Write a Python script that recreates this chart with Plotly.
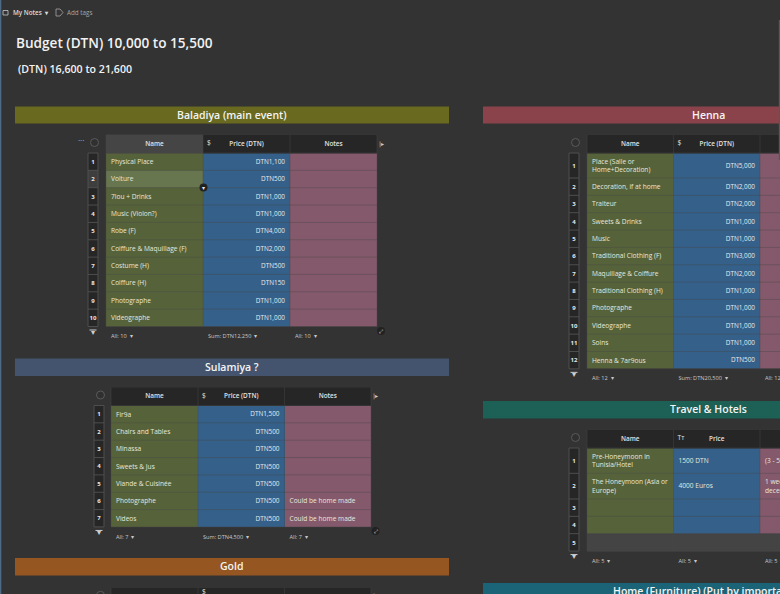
import numpy as np
import plotly.graph_objects as go

# ---------- data ----------
PAGE_TITLE = "Budget (DTN) 10,000 to 15,500"
PAGE_SUBTITLE = "(DTN) 16,600 to 21,600"
BREADCRUMB = "My Notes"
ADD_TAGS = "Add tags"

BALADIYA_NAMES = ["Physical Place", "Voiture", "7lou + Drinks", "Music (Violon?)", "Robe (F)",
                  "Coiffure & Maquillage (F)", "Costume (H)", "Coiffure (H)", "Photographe", "Videographe"]
BALADIYA_PRICES = [1100, 500, 1000, 1000, 4000, 2000, 500, 150, 1000, 1000]
BALADIYA_NOTES = [""] * 10

SULAMIYA_NAMES = ["Fir9a", "Chairs and Tables", "Minassa", "Sweets & Jus", "Viande & Cuisinée", "Photographe", "Videos"]
SULAMIYA_PRICES = [1500, 500, 500, 500, 500, 500, 500]
SULAMIYA_NOTES = ["", "", "", "", "", "Could be home made", "Could be home made"]

HENNA_NAMES = ["Place (Salle or<br>Home+Decoration)", "Decoration, if at home", "Traiteur", "Sweets & Drinks", "Music",
               "Traditional Clothing (F)", "Maquillage & Coiffure", "Traditional Clothing (H)", "Photographe",
               "Videographe", "Soins", "Henna & 7ar9ous"]
HENNA_PRICES = [5000, 2000, 2000, 1000, 1000, 3000, 2000, 1000, 1000, 1000, 1000, 500]
HENNA_NOTES = [""] * 12

TRAVEL_NAMES = ["Pre-Honeymoon in<br>Tunisia/Hotel", "The Honeymoon (Asia or<br>Europe)", "", "", ""]
TRAVEL_PRICES = ["1500 DTN", "4000 Euros", "", "", ""]
TRAVEL_NOTES = ["(3 - 5 days)", "1 week<br>december", "", "", ""]

BAND_TITLES = ["Baladiya (main event)", "Sulamiya ?", "Gold", "Henna", "Travel & Hotels", "Home (Furniture) (Put by importance)"]
BAND_COLORS = ["#69691f", "#44546f", "#955622", "#8b434b", "#1c6056", "#1b6478"]

HEADER_COLUMNS = ["Name", "Price (DTN)", "Notes"]
TRAVEL_COLUMNS = ["Name", "Price", "Notes"]
HIDDEN_COLUMNS = ["", "", ""]

# cell palette, indexed by the z values of the heatmaps
PALETTE = ["#56633a", "#34608a", "#85596c", "#67764f", "#262626", "#454545", "#444444", "#3e3e3e"]
BG = "#333333"
FONT = "Open Sans"
W, H = 780, 594


def px(x):
    return x / W


def py(y):
    return 1 - y / H


shapes, annotations = [], []
fig = go.Figure()
axis_no = [0]


def note(x, y, text, size, color, family=FONT, weight=None, xanchor="center"):
    font = dict(family=family, size=size, color=color)
    if weight:
        font["weight"] = weight
    annotations.append(dict(x=px(x), y=py(y), text=text, showarrow=False, xref="paper", yref="paper",
                            xanchor=xanchor, yanchor="middle", font=font))


def money(v):
    return f"DTN{v:,}"


def table(left, top, widths, gutter_left, rows, names, prices, notes, columns, head_icon,
          footer=None, dark_first=False, hover_row=None, blank_rows=(), head_h=18.5):
    """One table on its own pair of axes; units are screen pixels from the first body cell."""
    axis_no[0] += 1
    n = axis_no[0]
    sfx = "" if n == 1 else str(n)
    xa, ya = "x" + sfx, "y" + sfx
    body = float(sum(rows))
    col_edges = np.concatenate([[0], np.cumsum(widths)])
    row_edges = np.concatenate([[-head_h, 0], np.cumsum(rows)]) if len(rows) else np.array([-head_h, 0.0])
    foot = 19.0 if footer else 0.0
    x0 = gutter_left - left - 1
    xend = min(W, left + col_edges[-1] + 12)
    bottom = min(H, top + head_h + body + foot)
    fig.layout[("xaxis" + sfx)] = dict(domain=[px(gutter_left - 1), px(xend)], range=[x0, xend - left], visible=False,
                                       anchor=ya, fixedrange=True)
    fig.layout[("yaxis" + sfx)] = dict(domain=[py(bottom), py(top)], range=[bottom - top - head_h, -head_h], visible=False,
                                       anchor=xa, fixedrange=True)

    z = []
    z.append([5 if (dark_first and c == 0) else 4 for c in range(3)])
    for r in range(len(rows)):
        row = [0, 1, 2]
        if hover_row == r:
            row = [3, 1, 2]
        if r in blank_rows:
            row = [6, 6, 6]
        z.append(row)
    common = dict(colorscale=[[i / (len(PALETTE) - 1), c] for i, c in enumerate(PALETTE)], zmin=0, zmax=len(PALETTE) - 1,
                  showscale=False, hoverinfo="skip", xaxis=xa, yaxis=ya)
    fig.add_trace(go.Heatmap(z=z, x=col_edges, y=row_edges, **common))

    gx = np.array([gutter_left - left, gutter_left - left + 10.0])
    if len(rows):
        gz = [[7 if hover_row == r else 4] for r in range(len(rows))]
        fig.add_trace(go.Heatmap(z=gz, x=gx, y=row_edges[1:], **common))

    # grid lines
    lx, ly = [], []
    for y in row_edges[1:]:
        lx += [0, col_edges[-1], None]
        ly += [y, y, None]
    for x in col_edges:
        lx += [x, x, None]
        ly += [row_edges[0], row_edges[-1], None]
    lx += [0, col_edges[-1], None]
    ly += [row_edges[0], row_edges[0], None]
    fig.add_trace(go.Scatter(x=lx, y=ly, mode="lines", line=dict(color="rgba(72,72,72,0.42)", width=1), connectgaps=False,
                             hoverinfo="skip", xaxis=xa, yaxis=ya))
    if len(rows):
        lx, ly = [], []
        for y in row_edges[1:]:
            lx += [gx[0], gx[1], None]
            ly += [y, y, None]
        for x in gx:
            lx += [x, x, None]
            ly += [0, row_edges[-1], None]
        fig.add_trace(go.Scatter(x=lx, y=ly, mode="lines", line=dict(color="#4e4e4e", width=1),
                                 hoverinfo="skip", xaxis=xa, yaxis=ya))

    mids = (row_edges[1:-1] + row_edges[2:]) / 2 + 0.7 if len(rows) else np.array([])
    tx_l, ty_l, tt_l = [], [], []
    tx_r, ty_r, tt_r = [], [], []
    for i, y in enumerate(mids):
        tx_l.append(5); ty_l.append(y); tt_l.append(names[i])
        if isinstance(prices[i], str):
            tx_l.append(col_edges[1] + 5); ty_l.append(y); tt_l.append(prices[i])
        else:
            tx_r.append(col_edges[2] - 5); ty_r.append(y); tt_r.append(money(prices[i]))
        tx_l.append(col_edges[2] + 5); ty_l.append(y); tt_l.append(notes[i])
    icon_y = -head_h / 2 if len(rows) else -head_h + 5
    tx_l.append(col_edges[1] + 4); ty_l.append(icon_y); tt_l.append(head_icon)
    if footer:
        for c, t in enumerate(footer):
            tx_l.append(col_edges[c] + 5); ty_l.append(body + 10.2); tt_l.append(t + "  ▾")
    colors_l = ["#c9c9c9" if t.endswith("▾") else "#e6e8de" for t in tt_l]
    sizes_l = [5.6 if t.endswith("▾") else 6.6 for t in tt_l]
    fig.add_trace(go.Scatter(x=tx_l, y=ty_l, text=tt_l, mode="text", textposition="middle right", hoverinfo="skip",
                             textfont=dict(family=FONT, size=sizes_l, color=colors_l), xaxis=xa, yaxis=ya))
    if tt_r:
        fig.add_trace(go.Scatter(x=tx_r, y=ty_r, text=tt_r, mode="text", textposition="middle left", hoverinfo="skip",
                                 textfont=dict(family=FONT, size=6.4, color="#e6ebef"), xaxis=xa, yaxis=ya))
    # header labels and row numbers
    cx = [(col_edges[c] + col_edges[c + 1]) / 2 for c in range(3)]
    fig.add_trace(go.Scatter(x=cx, y=[-head_h / 2 + 0.5] * 3, text=columns, mode="text", textposition="middle center", hoverinfo="skip",
                             textfont=dict(family=FONT, size=6.4, color="#e2e2e2", weight=600), xaxis=xa, yaxis=ya))
    if len(rows):
        fig.add_trace(go.Scatter(x=[gx.mean()] * len(rows), y=mids, text=[str(i + 1) for i in range(len(rows))],
                                 mode="text", textposition="middle center", hoverinfo="skip",
                                 textfont=dict(family=FONT, size=6, color="#e8e8e8", weight=700), xaxis=xa, yaxis=ya))
    # radio circle + filter glyph + column-add glyph
    cxp = gutter_left + 6.5
    shapes.append(dict(type="circle", xref="paper", yref="paper", x0=px(cxp - 4), x1=px(cxp + 4), y0=py(top + 12), y1=py(top + 4),
                       line=dict(color="#5a5a5a", width=1), fillcolor="#303030"))
    if footer:
        note(gutter_left + 5, top + head_h + body + 5.5, "▾", 8, "#cfcfcf", family="DejaVu Sans")
        shapes.append(dict(type="line", xref="paper", yref="paper", x0=px(gutter_left + 1.5), x1=px(gutter_left + 8.5),
                           y0=py(top + head_h + body + 3.5), y1=py(top + head_h + body + 3.5), line=dict(color="#cfcfcf", width=1)))
    note(left + col_edges[-1] + 4, top + 9, "|▸", 6, "#cfcfcf", family="DejaVu Sans")


def sum_label(values):
    return f"Sum: DTN{sum(values):,}"


R = 17.35
table(106, 134.5, [97, 87, 87], 88, [R] * 10, BALADIYA_NAMES, BALADIYA_PRICES, BALADIYA_NOTES, HEADER_COLUMNS, "$",
      footer=["All: 10", sum_label(BALADIYA_PRICES), "All: 10"], dark_first=True, hover_row=1)
table(111, 387, [87, 86.5, 86.5], 94, [R] * 7, SULAMIYA_NAMES, SULAMIYA_PRICES, SULAMIYA_NOTES, HEADER_COLUMNS, "$",
      footer=["All: 7", sum_label(SULAMIYA_PRICES), "All: 7"])
table(587, 134.5, [86.5, 86.5, 86.5], 569, [25] + [R] * 11, HENNA_NAMES, HENNA_PRICES, HENNA_NOTES, HEADER_COLUMNS, "$",
      footer=["All: 12", sum_label(HENNA_PRICES), "All: 12"])
table(587, 429.5, [86.5, 86.5, 86.5], 569, [25.3, 25.7, R, R, R], TRAVEL_NAMES, TRAVEL_PRICES, TRAVEL_NOTES, TRAVEL_COLUMNS, "Tт",
      footer=["All: 5", "All: 5", "All: 5"], blank_rows=(4,))
table(111, 587.3, [87, 86.5, 86.5], 94, [], [], [], [], HIDDEN_COLUMNS, "$")

# ---------- bands ----------
BAND_BOXES = [(15, 449, 106.5, 123.5), (15, 449, 358.5, 376), (15, 449, 558, 575.5),
              (483, 933, 106.5, 123.5), (483, 933, 401, 418.5), (483, 933, 583, 600)]
for title, color, (a, b, t, u) in zip(BAND_TITLES, BAND_COLORS, BAND_BOXES):
    shapes.append(dict(type="rect", xref="paper", yref="paper", x0=px(a), x1=px(b), y0=py(u), y1=py(t),
                       fillcolor=color, line=dict(width=0), layer="below"))
    note((a + b) / 2, (t + u) / 2 - 0.5, title, 10.5, "#f4f4f4", weight=600)

# ---------- page furniture ----------
note(14, 42.3, PAGE_TITLE, 13.6, "#f2f2f2", weight=600, xanchor="left")
note(16, 69, PAGE_SUBTITLE, 10.6, "#f2f2f2", weight=600, xanchor="left")
note(10.5, 12.5, BREADCRUMB + "  ▾", 6.3, "#dcdcdc", weight=600, xanchor="left")
note(64.5, 12.5, ADD_TAGS, 6.3, "#a5a5a5", xanchor="left")
note(81, 139, "···", 8, "#c8c8c8")
shapes += [
    dict(type="rect", xref="paper", yref="paper", x0=0, x1=px(1.3), y0=0, y1=1, fillcolor="#4d6a86", line=dict(width=0)),
    dict(type="rect", xref="paper", yref="paper", x0=px(778.8), x1=px(780), y0=py(160), y1=py(20), fillcolor="#575757", line=dict(width=0)),
    dict(type="rect", xref="paper", yref="paper", x0=px(3), x1=px(8), y0=py(15), y1=py(10.5), line=dict(color="#c8c8c8", width=0.8)),
    dict(type="path", xref="paper", yref="paper",
         path=f"M {px(56)} {py(9)} L {px(60)} {py(9)} L {px(63)} {py(12.5)} L {px(60)} {py(16)} L {px(56)} {py(16)} Z",
         line=dict(color="#a5a5a5", width=0.8)),
]
for cx_, cy_ in [(203.5, 187.5), (381, 331), (375.5, 531)]:
    shapes.append(dict(type="circle", xref="paper", yref="paper", x0=px(cx_ - 4), x1=px(cx_ + 4), y0=py(cy_ + 4), y1=py(cy_ - 4),
                       fillcolor="#222222", line=dict(width=0), layer="above"))
note(203.5, 187.5, "▾", 6, "#e8e8e8", family="DejaVu Sans")
note(381, 331, "⤢", 5, "#e8e8e8", family="DejaVu Sans")
note(375.5, 531, "⤢", 5, "#e8e8e8", family="DejaVu Sans")

fig.update_layout(width=W, height=H, margin=dict(l=0, r=0, t=0, b=0), autosize=False, paper_bgcolor=BG, plot_bgcolor="rgba(0,0,0,0)",
                  showlegend=False, shapes=shapes, annotations=annotations, font=dict(family=FONT))
fig.write_html("out.html", config=dict(displayModeBar=False),
               post_script="document.body.style.margin='0';document.body.style.background='" + BG + "';")
